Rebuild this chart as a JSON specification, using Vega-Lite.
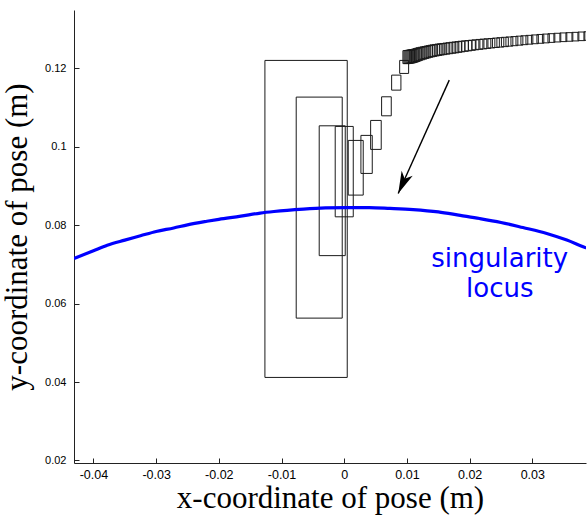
{
  "$schema": "https://vega.github.io/schema/vega-lite/v6.json",
  "width": 512,
  "height": 453,
  "autosize": {"type": "none"},
  "padding": {"left": 74, "top": 10, "right": 1, "bottom": 52},
  "background": "white",
  "config": {"view": {"stroke": null}},
  "datasets": {
    "boxes": [
      {"x": -0.01265, "x2": 0.00048, "y": 0.12204, "y2": 0.04117},
      {"x": -0.00766, "x2": -0.00032, "y": 0.11268, "y2": 0.0563},
      {"x": -0.00399, "x2": 0.00016, "y": 0.10536, "y2": 0.07224},
      {"x": -0.00144, "x2": 0.00144, "y": 0.1052, "y2": 0.08214},
      {"x": 0.00064, "x2": 0.00303, "y": 0.10163, "y2": 0.08768},
      {"x": 0.00266, "x2": 0.00447, "y": 0.10291, "y2": 0.09321},
      {"x": 0.00421, "x2": 0.0059, "y": 0.10673, "y2": 0.09934},
      {"x": 0.00596, "x2": 0.0075, "y": 0.11276, "y2": 0.10791},
      {"x": 0.00756, "x2": 0.00904, "y": 0.11829, "y2": 0.11446},
      {"x": 0.00884, "x2": 0.01027, "y": 0.12204, "y2": 0.11872},
      {"x": 0.00936, "x2": 0.01046, "y": 0.12454, "y2": 0.12122},
      {"x": 0.00952, "x2": 0.01062, "y": 0.12456, "y2": 0.12124},
      {"x": 0.00968, "x2": 0.01078, "y": 0.1246, "y2": 0.12128},
      {"x": 0.00984, "x2": 0.01094, "y": 0.12464, "y2": 0.12132},
      {"x": 0.01, "x2": 0.0111, "y": 0.12468, "y2": 0.12136},
      {"x": 0.01016, "x2": 0.01126, "y": 0.12472, "y2": 0.1214},
      {"x": 0.01032, "x2": 0.01142, "y": 0.12476, "y2": 0.12145},
      {"x": 0.01048, "x2": 0.01158, "y": 0.1248, "y2": 0.1215},
      {"x": 0.01072, "x2": 0.01182, "y": 0.12492, "y2": 0.12161},
      {"x": 0.01096, "x2": 0.01206, "y": 0.12504, "y2": 0.12176},
      {"x": 0.0112, "x2": 0.0123, "y": 0.12515, "y2": 0.12192},
      {"x": 0.01144, "x2": 0.01254, "y": 0.12527, "y2": 0.12207},
      {"x": 0.01175, "x2": 0.01285, "y": 0.12538, "y2": 0.12222},
      {"x": 0.01207, "x2": 0.01317, "y": 0.12548, "y2": 0.12238},
      {"x": 0.01239, "x2": 0.01349, "y": 0.12559, "y2": 0.12254},
      {"x": 0.01271, "x2": 0.01381, "y": 0.12569, "y2": 0.12269},
      {"x": 0.01303, "x2": 0.01413, "y": 0.1258, "y2": 0.12284},
      {"x": 0.01335, "x2": 0.01445, "y": 0.1259, "y2": 0.12296},
      {"x": 0.01367, "x2": 0.01477, "y": 0.126, "y2": 0.12306},
      {"x": 0.01407, "x2": 0.01517, "y": 0.12611, "y2": 0.12319},
      {"x": 0.01447, "x2": 0.01557, "y": 0.1262, "y2": 0.12331},
      {"x": 0.01486, "x2": 0.01596, "y": 0.12628, "y2": 0.12343},
      {"x": 0.01526, "x2": 0.01636, "y": 0.12636, "y2": 0.12352},
      {"x": 0.01574, "x2": 0.01684, "y": 0.12646, "y2": 0.12364},
      {"x": 0.01622, "x2": 0.01732, "y": 0.12656, "y2": 0.12375},
      {"x": 0.0167, "x2": 0.0178, "y": 0.12666, "y2": 0.12387},
      {"x": 0.01718, "x2": 0.01828, "y": 0.12674, "y2": 0.12397},
      {"x": 0.01766, "x2": 0.01876, "y": 0.12684, "y2": 0.1241},
      {"x": 0.01813, "x2": 0.01923, "y": 0.12693, "y2": 0.12422},
      {"x": 0.01869, "x2": 0.01979, "y": 0.12702, "y2": 0.12435},
      {"x": 0.01925, "x2": 0.02035, "y": 0.1271, "y2": 0.12448},
      {"x": 0.01981, "x2": 0.02091, "y": 0.12719, "y2": 0.12461},
      {"x": 0.02037, "x2": 0.02147, "y": 0.12728, "y2": 0.12475},
      {"x": 0.02101, "x2": 0.02211, "y": 0.12739, "y2": 0.12486},
      {"x": 0.02164, "x2": 0.02274, "y": 0.12747, "y2": 0.12498},
      {"x": 0.02228, "x2": 0.02338, "y": 0.12755, "y2": 0.1251},
      {"x": 0.02292, "x2": 0.02402, "y": 0.12763, "y2": 0.12522},
      {"x": 0.02364, "x2": 0.02474, "y": 0.12774, "y2": 0.12533},
      {"x": 0.02435, "x2": 0.02545, "y": 0.12784, "y2": 0.12544},
      {"x": 0.02507, "x2": 0.02617, "y": 0.12793, "y2": 0.12556},
      {"x": 0.02579, "x2": 0.02689, "y": 0.12802, "y2": 0.12568},
      {"x": 0.02659, "x2": 0.02769, "y": 0.12812, "y2": 0.1258},
      {"x": 0.02739, "x2": 0.02849, "y": 0.12823, "y2": 0.12593},
      {"x": 0.02818, "x2": 0.02928, "y": 0.12833, "y2": 0.12606},
      {"x": 0.02898, "x2": 0.03008, "y": 0.12843, "y2": 0.12619},
      {"x": 0.02986, "x2": 0.03096, "y": 0.12854, "y2": 0.1263},
      {"x": 0.03073, "x2": 0.03183, "y": 0.12866, "y2": 0.12641},
      {"x": 0.03161, "x2": 0.03271, "y": 0.12876, "y2": 0.12652},
      {"x": 0.03249, "x2": 0.03359, "y": 0.12886, "y2": 0.12664},
      {"x": 0.03344, "x2": 0.03454, "y": 0.12896, "y2": 0.12675},
      {"x": 0.0344, "x2": 0.0355, "y": 0.12905, "y2": 0.12684},
      {"x": 0.03536, "x2": 0.03646, "y": 0.12912, "y2": 0.12693},
      {"x": 0.03632, "x2": 0.03742, "y": 0.1292, "y2": 0.12701},
      {"x": 0.03727, "x2": 0.03837, "y": 0.12928, "y2": 0.12709},
      {"x": 0.03823, "x2": 0.03933, "y": 0.12935, "y2": 0.12717}
    ],
    "locus": [
      {"x": -0.0431, "y": 0.0715},
      {"x": -0.04, "y": 0.0735},
      {"x": -0.0378, "y": 0.0749},
      {"x": -0.035, "y": 0.0762},
      {"x": -0.0325, "y": 0.0773},
      {"x": -0.03, "y": 0.0784},
      {"x": -0.0272, "y": 0.0793},
      {"x": -0.025, "y": 0.0801},
      {"x": -0.0219, "y": 0.081},
      {"x": -0.02, "y": 0.0815},
      {"x": -0.0165, "y": 0.0823},
      {"x": -0.0134, "y": 0.0831},
      {"x": -0.0112, "y": 0.0835},
      {"x": -0.0065, "y": 0.0841},
      {"x": -0.003, "y": 0.0844},
      {"x": 0.0004, "y": 0.0845},
      {"x": 0.004, "y": 0.0845},
      {"x": 0.0073, "y": 0.0843},
      {"x": 0.011, "y": 0.084},
      {"x": 0.015, "y": 0.0834},
      {"x": 0.0185, "y": 0.0825},
      {"x": 0.0216, "y": 0.0817},
      {"x": 0.025, "y": 0.0807},
      {"x": 0.0285, "y": 0.0794},
      {"x": 0.0323, "y": 0.0779},
      {"x": 0.0355, "y": 0.0762},
      {"x": 0.0381, "y": 0.0745},
      {"x": 0.0386, "y": 0.0742}
    ],
    "arrow": [
      {"x": 0.00861, "y": 0.08811, "x2": 0.01675, "y2": 0.11702}
    ],
    "label": [
      {"x": 0.0248, "y": 0.0693, "text": "singularity\nlocus"}
    ]
  },
  "encoding": {
    "x": {
      "field": "x",
      "type": "quantitative",
      "scale": {"domain": [-0.0431, 0.03856], "nice": false, "zero": false},
      "axis": {
        "title": "x-coordinate of pose (m)",
        "values": [-0.04, -0.03, -0.02, -0.01, 0, 0.01, 0.02, 0.03],
        "labelExpr": "replace(format(datum.value, '~g'), '\u2212', '-')",
        "grid": false,
        "domainColor": "#222222",
        "tickColor": "#222222",
        "tickSize": -5,
        "labelPadding": 10,
        "labelFont": "Liberation Sans",
        "labelFontSize": 12.5,
        "labelColor": "black",
        "labelFlush": false,
        "titleFont": "Liberation Serif",
        "titleFontSize": 31,
        "titleFontWeight": "normal",
        "titleColor": "black",
        "titlePadding": 3
      }
    },
    "y": {
      "field": "y",
      "type": "quantitative",
      "scale": {"domain": [0.01934, 0.1349], "nice": false, "zero": false},
      "axis": {
        "title": "y-coordinate of pose (m)",
        "values": [0.02, 0.04, 0.06, 0.08, 0.1, 0.12],
        "format": "~g",
        "grid": false,
        "domainColor": "#222222",
        "tickColor": "#222222",
        "tickSize": -5,
        "labelPadding": 13,
        "labelFont": "Liberation Sans",
        "labelFontSize": 11,
        "labelColor": "black",
        "labelFlush": false,
        "titleFont": "Liberation Serif",
        "titleFontSize": 31,
        "titleFontWeight": "normal",
        "titleColor": "black",
        "titlePadding": 11
      }
    }
  },
  "layer": [
    {
      "data": {"name": "boxes"},
      "mark": {"type": "rect", "fill": "white", "fillOpacity": 0, "stroke": "#1a1a1a", "strokeWidth": 1, "clip": true},
      "encoding": {
        "x2": {"field": "x2"},
        "y2": {"field": "y2"}
      }
    },
    {
      "data": {"name": "locus"},
      "mark": {"type": "line", "color": "#0000ff", "strokeWidth": 3.2, "interpolate": "monotone", "clip": true},
      "encoding": {}
    },
    {
      "data": {"name": "arrow"},
      "mark": {"type": "rule", "color": "black", "strokeWidth": 1.4},
      "encoding": {
        "x2": {"field": "x2"},
        "y2": {"field": "y2"}
      }
    },
    {
      "data": {"name": "arrow"},
      "mark": {"type": "point", "shape": "M0,0 L-0.55,2 L0,1.45 L0.55,2 Z", "angle": 204, "size": 484, "filled": true, "color": "black", "opacity": 1, "strokeWidth": 0},
      "encoding": {}
    },
    {
      "data": {"name": "label"},
      "mark": {"type": "text", "font": "DejaVu Sans", "fontSize": 26, "color": "#0000ff", "align": "center", "baseline": "alphabetic", "lineBreak": "\n", "lineHeight": 30},
      "encoding": {"text": {"field": "text"}}
    }
  ]
}
